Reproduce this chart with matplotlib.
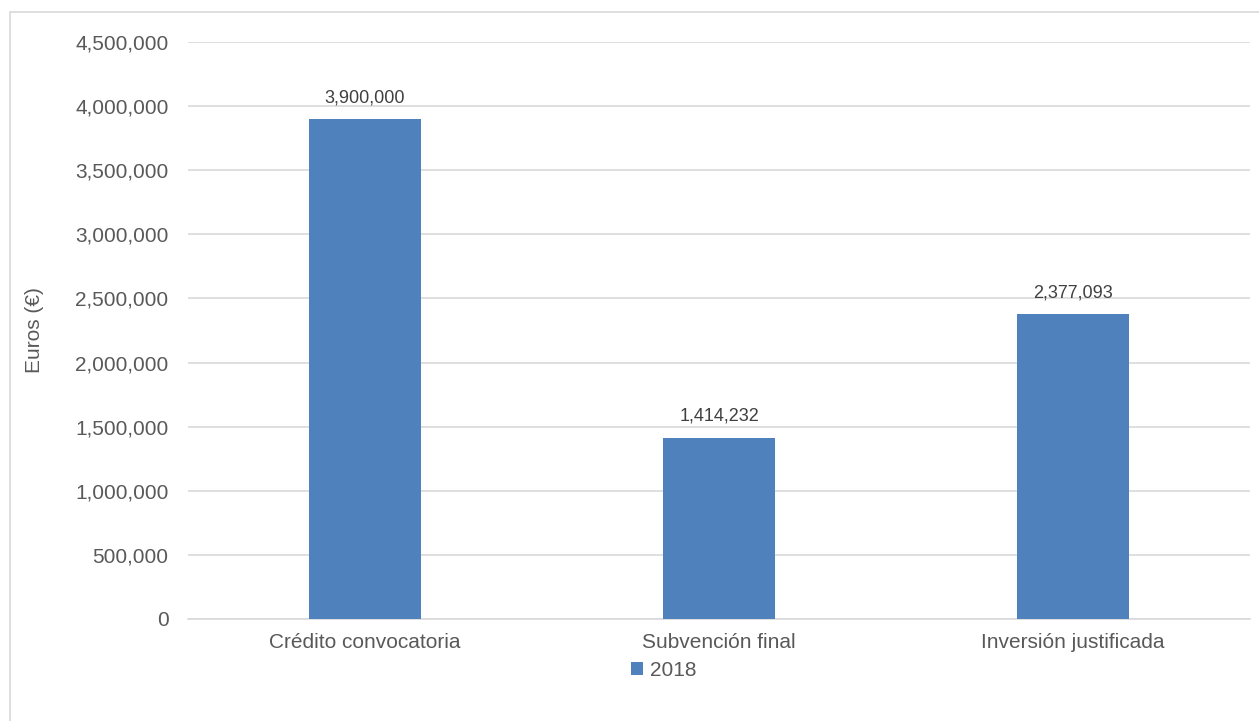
import matplotlib.pyplot as plt
from matplotlib.patches import Rectangle
from matplotlib.ticker import FuncFormatter

categories = ["Crédito convocatoria", "Subvención final", "Inversión justificada"]
values_2018 = [3900000, 1414232, 2377093]
series_name = "2018"

plt.rcParams['font.family'] = ['Liberation Sans', 'DejaVu Sans']
txt = "#595959"
bar_color = "#4F81BD"

fig = plt.figure(figsize=(12.59, 7.21), dpi=100)
ax = fig.add_axes([0.1493, 0.1415, 0.8436, 0.8002])

x = range(len(categories))
bars = ax.bar(x, values_2018, width=0.314, color=bar_color, label=series_name, zorder=3)
for b, v in zip(bars, values_2018):
    ax.text(b.get_x() + b.get_width() / 2, v + 100000, f"{v:,}", ha="center", va="bottom",
            fontsize=13, color="#404040")

ax.set_xlim(-0.5, len(categories) - 0.5)
ax.set_ylim(0, 4500000)
ax.set_yticks(range(0, 4500001, 500000))
ax.yaxis.set_major_formatter(FuncFormatter(lambda v, p: f"{int(v):,}"))
ax.set_xticks(list(x))
ax.set_xticklabels(categories)
ax.grid(axis="y", color="#D9D9D9", linewidth=1.2, zorder=0)
for s in ["top", "right", "left"]:
    ax.spines[s].set_visible(False)
ax.spines["bottom"].set_color("#D9D9D9")
ax.spines["bottom"].set_linewidth(1.2)
ax.tick_params(axis="both", length=0, labelsize=15, colors=txt)
ax.tick_params(axis="y", pad=14)
ax.tick_params(axis="x", pad=10)
ax.set_ylabel("Euros (€)", fontsize=15, color=txt, labelpad=12)
ax.yaxis.set_label_coords(-0.136, 0.5)

leg = fig.legend(loc="center", bbox_to_anchor=(0.527, 0.07), frameon=False, fontsize=15,
                 handlelength=0.6, handleheight=0.6, handletextpad=0.3, labelcolor=txt)

fig.patches.append(Rectangle((10 / 1259, -0.01), 1.5, 1 - 12 / 721 + 0.01, transform=fig.transFigure,
                             fill=False, edgecolor="#D9D9D9", linewidth=1.2))

fig.savefig("out.png", dpi=100)
